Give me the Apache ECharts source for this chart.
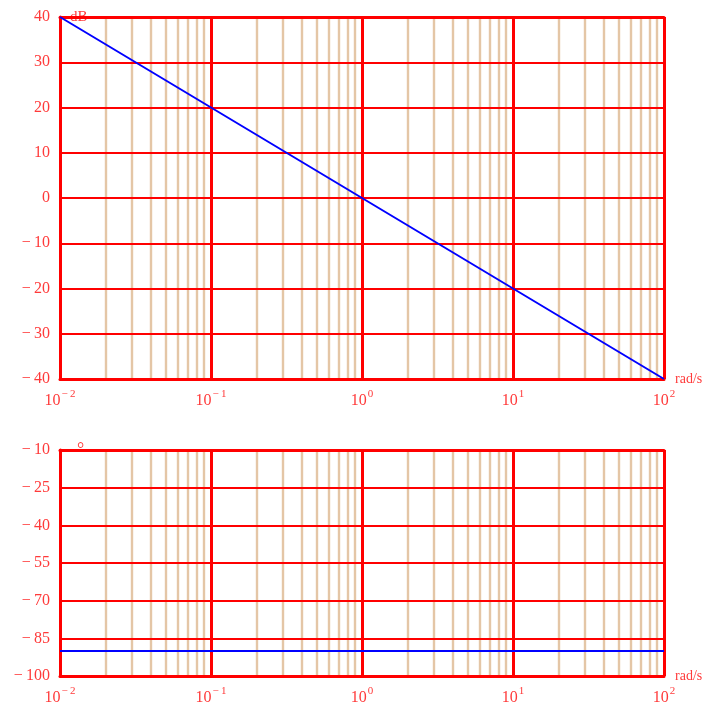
<!DOCTYPE html>
<html>
<head>
<meta charset="utf-8">
<script src="https://cdn.jsdelivr.net/npm/echarts@6/dist/echarts.min.js"></script>
<style>html,body{margin:0;padding:0;background:#fff}#c{width:721px;height:706px}</style>
</head>
<body>
<div id="c"></div>
<script>
// ---- data ----
var freqs = [0.01, 0.1, 1, 10, 100];
var magnitudeDb = [40, 20, 0, -20, -40];
var phaseDeg = [-90, -90, -90, -90, -90];
var minorFreqs = [0.02,0.03,0.04,0.05,0.06,0.07,0.08,0.09,
                  0.2,0.3,0.4,0.5,0.6,0.7,0.8,0.9,
                  2,3,4,5,6,7,8,9,
                  20,30,40,50,60,70,80,90];
var magTicks = {min: -40, max: 40, step: 10};
var phaseTicks = {min: -100, max: -10, step: 15};
var freqRange = {min: 0.01, max: 100};

var RED = '#ff0000', TAN = '#e4c6a6', BLUE = '#0000ff', LBL = '#ff3a3a';
var FONT = 'Liberation Serif';

function minusify(v) { return String(v).replace('-', '\u2212\u2009'); }
function xLabel(v) {
  var e = Math.round(Math.log10(v));
  return '{b|10}{e|' + minusify(e) + '}';
}
function xAxisOpt(gi) {
  return {
    type: 'log', logBase: 10, gridIndex: gi, min: freqRange.min, max: freqRange.max, z: 3,
    name: 'rad/s', nameLocation: 'end', nameGap: 11,
    nameTextStyle: {color: LBL, fontFamily: FONT, fontSize: 14, verticalAlign: 'middle', padding: [6,0,0,0]},
    axisLine: {show: true, onZero: false, lineStyle: {color: RED, width: 3}},
    axisTick: {show: false},
    minorTick: {show: false},
    splitLine: {show: true, lineStyle: {color: RED, width: 3}},
    axisLabel: {
      margin: 10, color: LBL, fontFamily: FONT, formatter: xLabel,
      rich: {
        b: {fontFamily: FONT, fontSize: 16, color: LBL, lineHeight: 20, verticalAlign: 'bottom'},
        e: {fontFamily: FONT, fontSize: 11, color: LBL, lineHeight: 14, verticalAlign: 'top', padding: [0,0,0,1]}
      }
    }
  };
}
function topFrame(gi) {
  return {
    type: 'value', gridIndex: gi, position: 'top', z: 3,
    axisLine: {show: true, onZero: false, lineStyle: {color: RED, width: 3}},
    axisTick: {show: false}, axisLabel: {show: false}, splitLine: {show: false}
  };
}
function yAxisOpt(gi, t, name, nameStyle) {
  return {
    type: 'value', gridIndex: gi, min: t.min, max: t.max, interval: t.step, z: 3,
    name: name, nameLocation: 'end', nameGap: 0,
    nameTextStyle: nameStyle,
    axisLine: {show: true, onZero: false, lineStyle: {color: RED, width: 3}},
    axisTick: {show: false},
    splitLine: {show: true, lineStyle: {color: RED, width: 2}},
    axisLabel: {margin: 10, color: LBL, fontFamily: FONT, fontSize: 16, formatter: minusify}
  };
}
function minorSeries(gi) {
  return {
    type: 'line', xAxisIndex: gi, yAxisIndex: gi, data: [], z: 1, silent: true,
    markLine: {
      silent: true, symbol: 'none', z: 1, animation: false,
      label: {show: false},
      lineStyle: {color: TAN, width: 2.4, type: 'solid'},
      data: minorFreqs.map(function (f) { return {xAxis: f}; })
    }
  };
}
function pairs(ys) { return freqs.map(function (f, i) { return [f, ys[i]]; }); }

var chart = echarts.init(document.getElementById('c'), null, {renderer: 'canvas'});
chart.setOption({
  animation: false,
  grid: [
    {left: 60, right: 57, top: 17, height: 362},
    {left: 60, right: 57, top: 450, height: 227}
  ],
  xAxis: [xAxisOpt(0), xAxisOpt(1), topFrame(0), topFrame(1)],
  yAxis: [
    yAxisOpt(0, magTicks, 'dB', {color: LBL, fontFamily: FONT, fontSize: 15, align: 'left', verticalAlign: 'middle', padding: [0,0,0,10]}),
    yAxisOpt(1, phaseTicks, '\u00b0', {color: LBL, fontFamily: FONT, fontSize: 18, lineHeight: 18, align: 'left', verticalAlign: 'middle', padding: [0,0,0,17]})
  ],
  series: [
    minorSeries(0),
    minorSeries(1),
    {type: 'line', xAxisIndex: 0, yAxisIndex: 0, data: pairs(magnitudeDb), z: 5,
     showSymbol: false, symbol: 'none', lineStyle: {color: BLUE, width: 2}},
    {type: 'line', xAxisIndex: 1, yAxisIndex: 1, data: pairs(phaseDeg), z: 5,
     showSymbol: false, symbol: 'none', lineStyle: {color: BLUE, width: 2}}
  ]
});
</script>
</body>
</html>
